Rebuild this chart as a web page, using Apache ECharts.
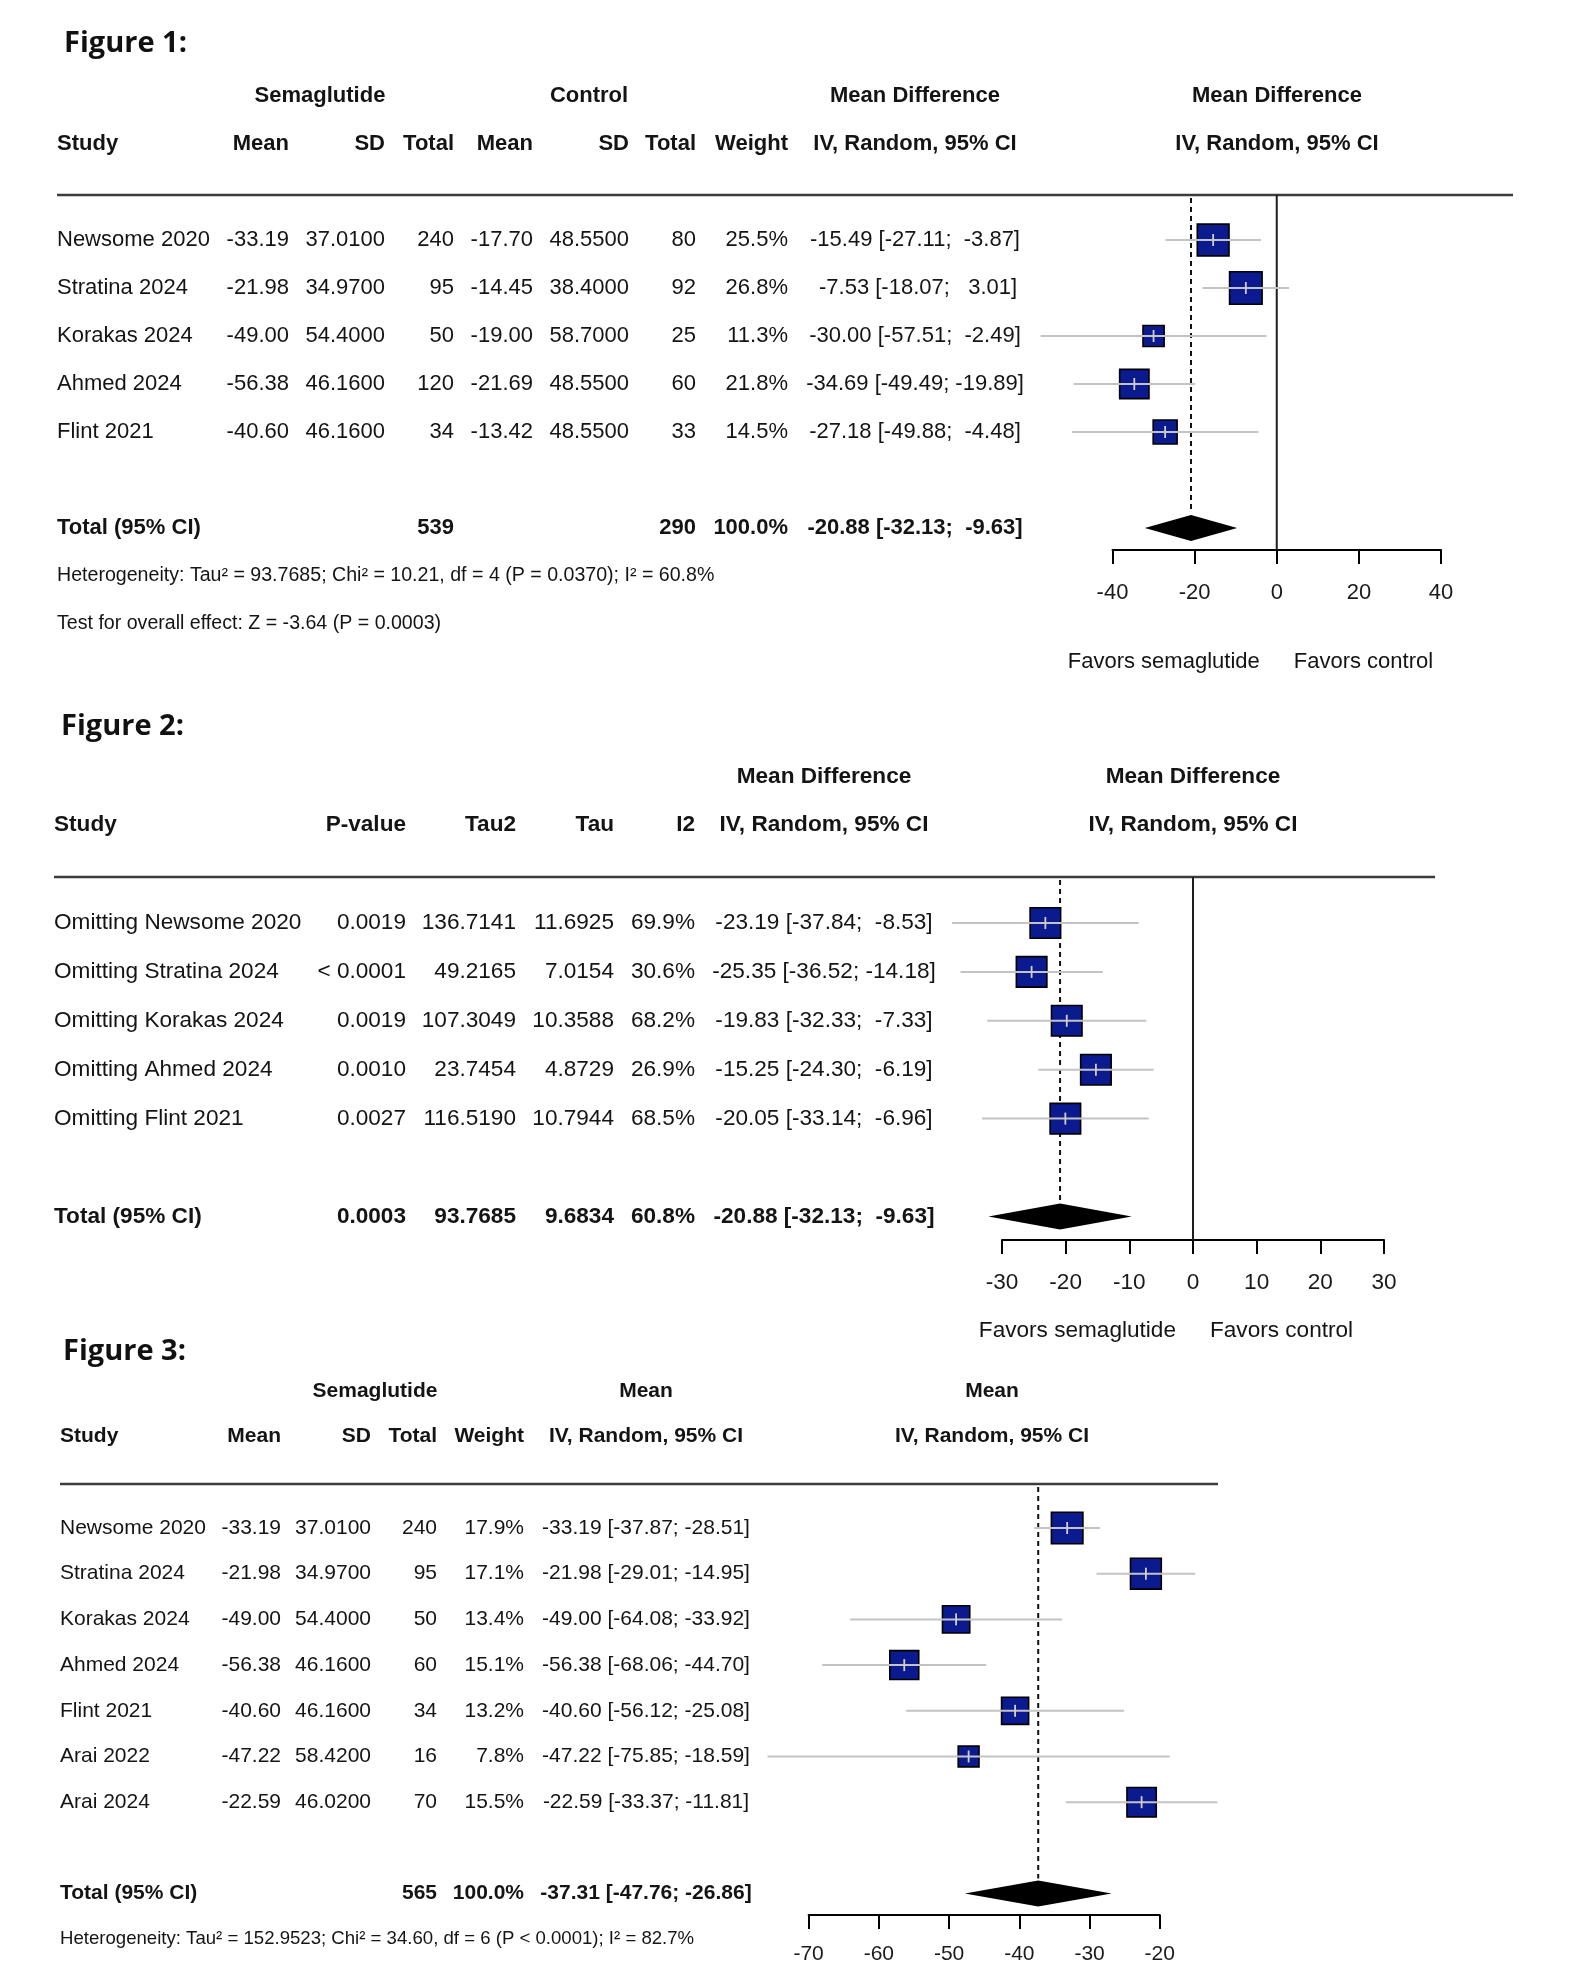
<!DOCTYPE html>
<html>
<head>
<meta charset="utf-8">
<script src="https://cdn.jsdelivr.net/npm/echarts/dist/echarts.min.js"></script>
<style>
html,body{margin:0;padding:0;background:#ffffff;}
#c{width:1587px;height:1975px;}
</style>
</head>
<body>
<div id="c"></div>
<script>
// ================= DATA =================
// ---- Figure 1 ----
const f1Studies  = ['Newsome 2020','Stratina 2024','Korakas 2024','Ahmed 2024','Flint 2021'];
const f1SemaMean = [-33.19,-21.98,-49.00,-56.38,-40.60];
const f1SemaSD   = [37.01,34.97,54.40,46.16,46.16];
const f1SemaN    = [240,95,50,120,34];
const f1CtrlMean = [-17.70,-14.45,-19.00,-21.69,-13.42];
const f1CtrlSD   = [48.55,38.40,58.70,48.55,48.55];
const f1CtrlN    = [80,92,25,60,33];
const f1Weight   = [25.5,26.8,11.3,21.8,14.5];
const f1MD       = [-15.49,-7.53,-30.00,-34.69,-27.18];
const f1Lower    = [-27.11,-18.07,-57.51,-49.49,-49.88];
const f1Upper    = [-3.87,3.01,-2.49,-19.89,-4.48];
const f1Pooled   = [-20.88,-32.13,-9.63];      // md, lower, upper
const f1TotalN   = [539,290];                  // semaglutide, control
const f1TotalW   = 100.0;
const f1Ticks    = [-40,40,20];                // min, max, interval
const f1Het      = 'Heterogeneity: Tau\u00b2 = 93.7685; Chi\u00b2 = 10.21, df = 4 (P = 0.0370); I\u00b2 = 60.8%';
const f1Test     = 'Test for overall effect: Z = -3.64 (P = 0.0003)';

// ---- Figure 2 ----
const f2Studies = ['Omitting Newsome 2020','Omitting Stratina 2024','Omitting Korakas 2024','Omitting Ahmed 2024','Omitting Flint 2021'];
const f2P       = ['0.0019','< 0.0001','0.0019','0.0010','0.0027'];
const f2Tau2    = [136.7141,49.2165,107.3049,23.7454,116.5190];
const f2Tau     = [11.6925,7.0154,10.3588,4.8729,10.7944];
const f2I2      = [69.9,30.6,68.2,26.9,68.5];
const f2MD      = [-23.19,-25.35,-19.83,-15.25,-20.05];
const f2Lower   = [-37.84,-36.52,-32.33,-24.30,-33.14];
const f2Upper   = [-8.53,-14.18,-7.33,-6.19,-6.96];
const f2Pooled  = [-20.88,-32.13,-9.63];
const f2TotalP  = '0.0003';
const f2TotalTau2 = 93.7685;
const f2TotalTau  = 9.6834;
const f2TotalI2   = 60.8;
const f2Ticks   = [-30,30,10];

// ---- Figure 3 ----
const f3Studies = ['Newsome 2020','Stratina 2024','Korakas 2024','Ahmed 2024','Flint 2021','Arai 2022','Arai 2024'];
const f3Mean    = [-33.19,-21.98,-49.00,-56.38,-40.60,-47.22,-22.59];
const f3SD      = [37.01,34.97,54.40,46.16,46.16,58.42,46.02];
const f3N       = [240,95,50,60,34,16,70];
const f3Weight  = [17.9,17.1,13.4,15.1,13.2,7.8,15.5];
const f3Lower   = [-37.87,-29.01,-64.08,-68.06,-56.12,-75.85,-33.37];
const f3Upper   = [-28.51,-14.95,-33.92,-44.70,-25.08,-18.59,-11.81];
const f3Pooled  = [-37.31,-47.76,-26.86];
const f3TotalN  = 565;
const f3TotalW  = 100.0;
const f3Ticks   = [-70,-20,10];
const f3Het     = 'Heterogeneity: Tau\u00b2 = 152.9523; Chi\u00b2 = 34.60, df = 6 (P < 0.0001); I\u00b2 = 82.7%';

// ================= HELPERS =================
const FONT = '"Liberation Sans", Arial, Helvetica, sans-serif';
const TITLE_FONT = 'bold 29px "Open Sans", "Noto Sans", sans-serif';
const TXT = '#141414';
const font = (size, bold) => (bold ? 'bold ' : '') + size + 'px ' + FONT;
const pad = (s, w) => s.padStart(w, ' ');
const ci = (m, l, u) => pad(m.toFixed(2), 6) + ' [' + pad(l.toFixed(2), 6) + '; ' + pad(u.toFixed(2), 6) + ']';
const pct = v => v.toFixed(1) + '%';

// ================= LAYOUT (pixels) =================
const L1 = {title:'Figure 1:', titleX:64, titleY:44, axisL:1112.5, axisR:1441, sepY:195, axisY:550,
  row0:240, step:48, ruleL:57, ruleR:1513, labelMargin:32, favors:true, favorsDy:112, favorsGap:17,
  zero:true, sq:32.5, totalSlot:6, fs:22, fsSmall:19.6};
const L2 = {title:'Figure 2:', titleX:61, titleY:727, axisL:1002, axisR:1384, sepY:877, axisY:1240,
  row0:923, step:48.9, ruleL:54, ruleR:1435, labelMargin:31, favors:true, favorsDy:91, favorsGap:17,
  zero:true, sq:30.5, totalSlot:6, fs:22.6, fsSmall:19.6};
const L3 = {title:'Figure 3:', titleX:63, titleY:1352, axisL:808.6, axisR:1159.8, sepY:1484, axisY:1915,
  row0:1528, step:45.7, ruleL:60, ruleR:1218, labelMargin:29, favors:false,
  zero:false, sq:31.5, totalSlot:8, fs:21, fsSmall:18.6};

// cell helper
const cell = (t, x, a, bold, small) => ({t: String(t), x, a, bold: !!bold, small: !!small});

// ================= TABLE ROWS =================
const rows1 = [];
rows1.push({slot:-3, cells:[cell('Semaglutide',320,'center',1), cell('Control',589,'center',1),
  cell('Mean Difference',915,'center',1), cell('Mean Difference',1277,'center',1)]});
rows1.push({slot:-2, cells:[cell('Study',57,'left',1), cell('Mean',289,'right',1), cell('SD',385,'right',1),
  cell('Total',454,'right',1), cell('Mean',533,'right',1), cell('SD',629,'right',1), cell('Total',696,'right',1),
  cell('Weight',788,'right',1), cell('IV, Random, 95% CI',915,'center',1), cell('IV, Random, 95% CI',1277,'center',1)]});
f1Studies.forEach((s, i) => rows1.push({slot:i, cells:[
  cell(s,57,'left'), cell(f1SemaMean[i].toFixed(2),289,'right'), cell(f1SemaSD[i].toFixed(4),385,'right'),
  cell(f1SemaN[i],454,'right'), cell(f1CtrlMean[i].toFixed(2),533,'right'), cell(f1CtrlSD[i].toFixed(4),629,'right'),
  cell(f1CtrlN[i],696,'right'), cell(pct(f1Weight[i]),788,'right'), cell(ci(f1MD[i],f1Lower[i],f1Upper[i]),915,'center')]}));
rows1.push({slot:6, cells:[cell('Total (95% CI)',57,'left',1), cell(f1TotalN[0],454,'right',1),
  cell(f1TotalN[1],696,'right',1), cell(pct(f1TotalW),788,'right',1), cell(ci(f1Pooled[0],f1Pooled[1],f1Pooled[2]),915,'center',1)]});
rows1.push({slot:7, cells:[cell(f1Het,57,'left',0,1)]});
rows1.push({slot:8, cells:[cell(f1Test,57,'left',0,1)]});

const rows2 = [];
rows2.push({slot:-3, cells:[cell('Mean Difference',824,'center',1), cell('Mean Difference',1193,'center',1)]});
rows2.push({slot:-2, cells:[cell('Study',54,'left',1), cell('P-value',406,'right',1), cell('Tau2',516,'right',1),
  cell('Tau',614,'right',1), cell('I2',695,'right',1), cell('IV, Random, 95% CI',824,'center',1),
  cell('IV, Random, 95% CI',1193,'center',1)]});
f2Studies.forEach((s, i) => rows2.push({slot:i, cells:[
  cell(s,54,'left'), cell(f2P[i],406,'right'), cell(f2Tau2[i].toFixed(4),516,'right'), cell(f2Tau[i].toFixed(4),614,'right'),
  cell(pct(f2I2[i]),695,'right'), cell(ci(f2MD[i],f2Lower[i],f2Upper[i]),824,'center')]}));
rows2.push({slot:6, cells:[cell('Total (95% CI)',54,'left',1), cell(f2TotalP,406,'right',1),
  cell(f2TotalTau2.toFixed(4),516,'right',1), cell(f2TotalTau.toFixed(4),614,'right',1), cell(pct(f2TotalI2),695,'right',1),
  cell(ci(f2Pooled[0],f2Pooled[1],f2Pooled[2]),824,'center',1)]});

const rows3 = [];
rows3.push({slot:-3, cells:[cell('Semaglutide',375,'center',1), cell('Mean',646,'center',1), cell('Mean',992,'center',1)]});
rows3.push({slot:-2, cells:[cell('Study',60,'left',1), cell('Mean',281,'right',1), cell('SD',371,'right',1),
  cell('Total',437,'right',1), cell('Weight',524,'right',1), cell('IV, Random, 95% CI',646,'center',1),
  cell('IV, Random, 95% CI',992,'center',1)]});
f3Studies.forEach((s, i) => rows3.push({slot:i, cells:[
  cell(s,60,'left'), cell(f3Mean[i].toFixed(2),281,'right'), cell(f3SD[i].toFixed(4),371,'right'),
  cell(f3N[i],437,'right'), cell(pct(f3Weight[i]),524,'right'), cell(ci(f3Mean[i],f3Lower[i],f3Upper[i]),646,'center')]}));
rows3.push({slot:8, cells:[cell('Total (95% CI)',60,'left',1), cell(f3TotalN,437,'right',1),
  cell(pct(f3TotalW),524,'right',1), cell(ci(f3Pooled[0],f3Pooled[1],f3Pooled[2]),646,'center',1)]});
rows3.push({slot:9, cells:[cell(f3Het,60,'left',0,1)]});

// ================= BUILD OPTION =================
const figs = [
  {L:L1, ticks:f1Ticks, rows:rows1, md:f1MD, lo:f1Lower, hi:f1Upper, w:f1Weight, pooled:f1Pooled},
  {L:L2, ticks:f2Ticks, rows:rows2, md:f2MD, lo:f2Lower, hi:f2Upper, w:null, pooled:f2Pooled},
  {L:L3, ticks:f3Ticks, rows:rows3, md:f3Mean, lo:f3Lower, hi:f3Upper, w:f3Weight, pooled:f3Pooled}
];

const grid = [], xAxis = [], yAxis = [], series = [], graphic = [];

figs.forEach((F, k) => {
  const L = F.L;
  const yMin = (L.sepY - L.row0) / L.step;
  const yMax = (L.axisY - L.row0) / L.step;
  grid.push({left:L.axisL, top:L.sepY, width:L.axisR - L.axisL, height:L.axisY - L.sepY, outerBoundsMode:'none', containLabel:false});
  xAxis.push({type:'value', gridIndex:k, min:F.ticks[0], max:F.ticks[1], interval:F.ticks[2], position:'bottom',
    axisLine:{show:true, onZero:false, lineStyle:{color:'#000', width:2}},
    axisTick:{show:true, inside:false, length:14, lineStyle:{color:'#000', width:2}},
    axisLabel:{show:true, margin:L.labelMargin, color:'#1a1a1a', fontSize:L.fs, fontFamily:FONT, showMinLabel:true, showMaxLabel:true,
      formatter: v => String(v)},
    splitLine:{show:false}});
  yAxis.push({type:'value', gridIndex:k, min:yMin, max:yMax, inverse:true, show:false});

  graphic.push({type:'text', x:L.titleX, y:L.titleY, style:{text:L.title, font:TITLE_FONT, fill:'#111', verticalAlign:'middle', align:'left'}});

  // decorations: rule, zero line, pooled dashed line, diamond, favors labels
  series.push({type:'custom', coordinateSystem:'cartesian2d', xAxisIndex:k, yAxisIndex:k, clip:false, silent:true, z:1,
    encode:{x:0, y:1},
    data:[[F.pooled[0], L.totalSlot, F.pooled[1], F.pooled[2]]],
    renderItem:(params, api) => {
      const slot = api.value(1);
      const c  = api.coord([api.value(0), slot]);
      const cl = api.coord([api.value(2), slot]);
      const ch = api.coord([api.value(3), slot]);
      const topY = api.coord([api.value(0), yMin])[1];
      const botY = api.coord([api.value(0), yMax])[1];
      const h = 13;
      const kids = [];
      kids.push({type:'line', shape:{x1:L.ruleL, y1:topY, x2:L.ruleR, y2:topY}, style:{stroke:'#3c3c3c', lineWidth:2.5}});
      if (L.zero) {
        const z = api.coord([0, slot])[0];
        kids.push({type:'line', shape:{x1:z, y1:topY, x2:z, y2:botY}, style:{stroke:'#1e1e1e', lineWidth:2}});
        if (L.favors) {
          const fy = botY + L.favorsDy;
          kids.push({type:'text', style:{text:'Favors semaglutide', x:z - L.favorsGap, y:fy, font:font(L.fs), fill:TXT, align:'right', verticalAlign:'middle'}});
          kids.push({type:'text', style:{text:'Favors control', x:z + L.favorsGap, y:fy, font:font(L.fs), fill:TXT, align:'left', verticalAlign:'middle'}});
        }
      }
      kids.push({type:'line', shape:{x1:c[0], y1:topY + 3, x2:c[0], y2:c[1] - h - 2}, style:{stroke:'#111', lineWidth:2, lineDash:[5,4]}});
      kids.push({type:'polygon', shape:{points:[[cl[0], c[1]], [c[0], c[1] - h], [ch[0], c[1]], [c[0], c[1] + h]]}, style:{fill:'#000'}});
      return {type:'group', children:kids};
    }});

  // study squares + confidence intervals
  const wMax = F.w ? Math.max.apply(null, F.w) : 1;
  series.push({type:'custom', coordinateSystem:'cartesian2d', xAxisIndex:k, yAxisIndex:k, clip:false, silent:true, z:3,
    encode:{x:0, y:1},
    data:F.md.map((m, i) => [m, i, F.lo[i], F.hi[i], F.w ? F.w[i] : wMax]),
    renderItem:(params, api) => {
      const slot = api.value(1);
      const p  = api.coord([api.value(0), slot]);
      const pl = api.coord([api.value(2), slot]);
      const pu = api.coord([api.value(3), slot]);
      const s = L.sq * Math.sqrt(api.value(4) / wMax);
      return {type:'group', children:[
        {type:'rect', shape:{x:p[0] - s / 2, y:p[1] - s / 2, width:s, height:s}, style:{fill:'#0b1b8f', stroke:'#000', lineWidth:1.6}},
        {type:'line', shape:{x1:pl[0], y1:p[1], x2:pu[0], y2:p[1]}, style:{stroke:'#c3c3c3', lineWidth:2}},
        {type:'line', shape:{x1:p[0], y1:p[1] - 6, x2:p[0], y2:p[1] + 6}, style:{stroke:'#cfcfcf', lineWidth:1.8}}
      ]};
    }});

  // table text
  series.push({type:'custom', coordinateSystem:'cartesian2d', xAxisIndex:k, yAxisIndex:k, clip:false, silent:true, z:4,
    encode:{x:0, y:1},
    data:F.rows.map((r, i) => [F.ticks[0], r.slot, i]),
    renderItem:(params, api) => {
      const y = api.coord([api.value(0), api.value(1)])[1];
      const row = F.rows[api.value(2)];
      return {type:'group', children:row.cells.map(cc => ({type:'text',
        style:{text:cc.t, x:cc.x, y:y, font:font(cc.small ? L.fsSmall : L.fs, cc.bold), fill:TXT, align:cc.a, verticalAlign:'middle'}}))};
    }});
});

const chart = echarts.init(document.getElementById('c'), null, {renderer:'canvas', width:1587, height:1975});
chart.setOption({
  backgroundColor:'#ffffff',
  animation:false,
  grid, xAxis, yAxis, series, graphic
});
</script>
</body>
</html>
